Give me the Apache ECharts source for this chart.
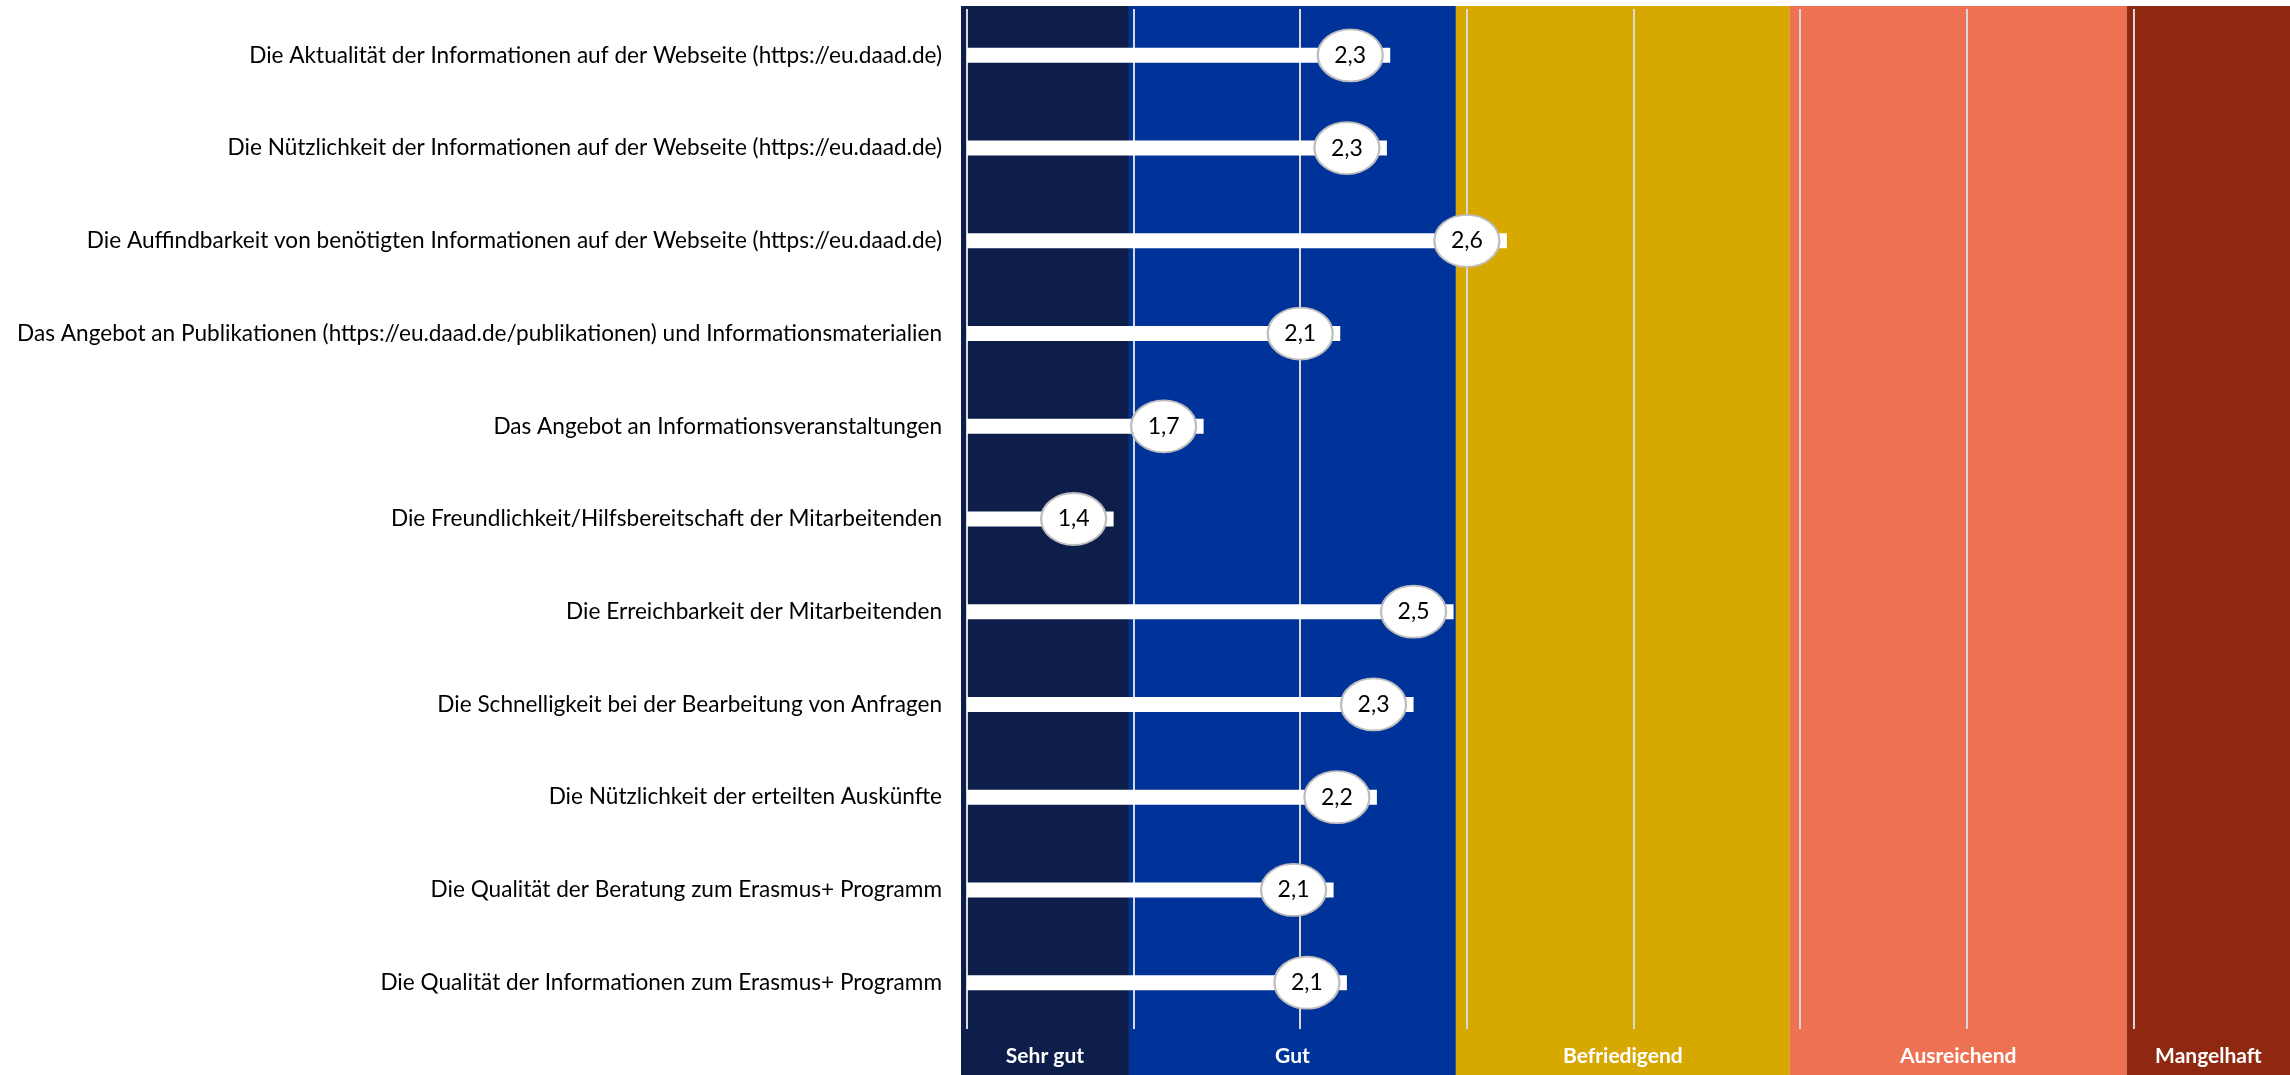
<!DOCTYPE html>
<html>
<head>
<meta charset="utf-8">
<script src="https://cdn.jsdelivr.net/npm/echarts@6/dist/echarts.min.js"></script>
<style>
html,body{margin:0;padding:0;background:#fff;}
#chart{width:2290px;height:1075px;}
</style>
</head>
<body>
<div id="chart"></div>
<script>
const categories = [
  'Die Aktualität der Informationen auf der Webseite (https://eu.daad.de)',
  'Die Nützlichkeit der Informationen auf der Webseite (https://eu.daad.de)',
  'Die Auffindbarkeit von benötigten Informationen auf der Webseite (https://eu.daad.de)',
  'Das Angebot an Publikationen (https://eu.daad.de/publikationen) und Informationsmaterialien',
  'Das Angebot an Informationsveranstaltungen',
  'Die Freundlichkeit/Hilfsbereitschaft der Mitarbeitenden',
  'Die Erreichbarkeit der Mitarbeitenden',
  'Die Schnelligkeit bei der Bearbeitung von Anfragen',
  'Die Nützlichkeit der erteilten Auskünfte',
  'Die Qualität der Beratung zum Erasmus+ Programm',
  'Die Qualität der Informationen zum Erasmus+ Programm'
];
const values = [2.27, 2.26, 2.62, 2.12, 1.71, 1.44, 2.46, 2.34, 2.23, 2.10, 2.14];

const bandNames = ['Sehr gut', 'Gut', 'Befriedigend', 'Ausreichend', 'Mangelhaft'];
const bandStarts = [0.982, 1.486, 2.467, 3.469, 4.48];
const bandEnds = [1.486, 2.467, 3.469, 4.48, 4.97];

const bandColors = ['#0E1E4A', '#003399', '#D7A800', '#EE7153', '#8F2810'];
const FONT = 'Lato';

const chart = echarts.init(document.getElementById('chart'), null, {renderer: 'canvas'});

function fmt(v) { return v.toFixed(1).replace('.', ','); }

const option = {
  backgroundColor: '#ffffff',
  animation: false,
  grid: { left: 967, right: 0, top: 9, bottom: 46, containLabel: false },
  xAxis: {
    type: 'value', min: 1, max: 4.97, interval: 0.5, z: 2,
    axisLine: { show: false }, axisTick: { show: false }, axisLabel: { show: false },
    splitLine: { show: true, showMaxLine: false, lineStyle: { color: '#D9D9D9', width: 2 } }
  },
  yAxis: {
    type: 'category', data: categories, inverse: true,
    axisLine: { show: false }, axisTick: { show: false },
    axisLabel: { margin: 25, fontSize: 22.6, color: '#000', fontFamily: FONT }
  },
  series: [
    {
      type: 'custom', z: 1, silent: true, clip: false,
      data: bandNames.map((n, i) => [bandStarts[i], bandEnds[i], i]),
      encode: { x: [0, 1] },
      renderItem: function (params, api) {
        const i = api.value(2);
        const x1 = api.coord([api.value(0), 0])[0];
        const x2 = api.coord([api.value(1), 0])[0];
        const cs = params.coordSys;
        const top = cs.y - 3;
        const bottom = api.getHeight();
        const visRight = Math.min(x2, api.getWidth());
        return {
          type: 'group',
          children: [
            { type: 'rect', shape: { x: x1, y: top, width: x2 - x1, height: bottom - top },
              style: { fill: bandColors[i] } },
            { type: 'text', x: (x1 + visRight) / 2, y: cs.y + cs.height + 27,
              style: { text: bandNames[i], fill: '#fff', font: 'bold 21px ' + FONT,
                       textAlign: 'center', textVerticalAlign: 'middle' } }
          ]
        };
      }
    },
    {
      type: 'bar', z: 3, silent: true,
      data: values, barWidth: 15,
      itemStyle: { color: '#ffffff' }
    },
    {
      type: 'scatter', z: 4, silent: true,
      data: values.map((v, i) => [v, i]),
      symbol: 'circle', symbolSize: [65, 52], symbolOffset: [-40, 0],
      itemStyle: { color: '#ffffff', borderColor: '#BDBDBD', borderWidth: 2, opacity: 1 },
      label: {
        show: true, position: 'inside', color: '#000', fontSize: 23, fontFamily: FONT,
        formatter: p => fmt(p.value[0])
      }
    }
  ]
};
chart.setOption(option);
</script>
</body>
</html>
